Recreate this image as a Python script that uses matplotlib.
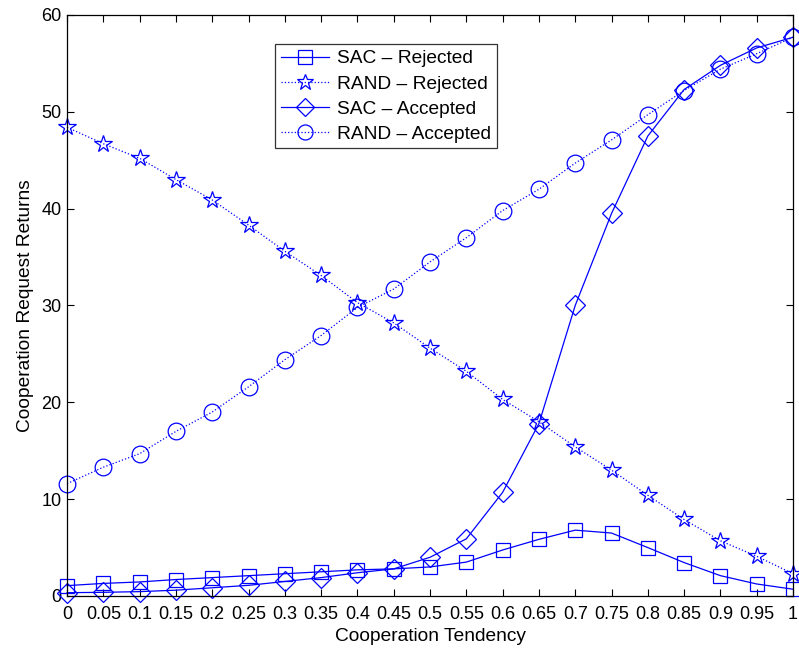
import numpy as np
import matplotlib
matplotlib.use("Agg")
import matplotlib.pyplot as plt

plt.rcParams['font.family'] = ['Liberation Sans', 'DejaVu Sans']

# Cooperation tendency values (x axis)
tendency = [0, 0.05, 0.1, 0.15, 0.2, 0.25, 0.3, 0.35, 0.4, 0.45, 0.5,
            0.55, 0.6, 0.65, 0.7, 0.75, 0.8, 0.85, 0.9, 0.95, 1.0]
tick_labels = ['0', '0.05', '0.1', '0.15', '0.2', '0.25', '0.3', '0.35', '0.4', '0.45', '0.5',
               '0.55', '0.6', '0.65', '0.7', '0.75', '0.8', '0.85', '0.9', '0.95', '1']

sac_rejected = [1.07, 1.3, 1.45, 1.7, 1.9, 2.1, 2.3, 2.5, 2.7, 2.8, 3.0,
                3.5, 4.75, 5.85, 6.8, 6.5, 5.0, 3.45, 2.1, 1.24, 0.7]
rand_rejected = [48.4, 46.7, 45.2, 43.0, 40.9, 38.3, 35.6, 33.1, 30.3, 28.2, 25.6,
                 23.2, 20.3, 18.0, 15.4, 13.0, 10.4, 7.9, 5.7, 4.1, 2.3]
sac_accepted = [0.34, 0.38, 0.45, 0.6, 0.85, 1.1, 1.5, 1.9, 2.4, 2.8, 4.0,
                5.9, 10.7, 17.8, 30.0, 39.5, 47.5, 52.3, 54.8, 56.6, 57.7]
rand_accepted = [11.6, 13.3, 14.7, 17.0, 19.0, 21.6, 24.4, 26.9, 29.8, 31.7, 34.5,
                 37.0, 39.8, 42.0, 44.7, 47.1, 49.7, 52.2, 54.4, 56.0, 57.7]

fig = plt.figure(figsize=(7.99, 6.51), dpi=100)
ax = fig.add_axes([0.0839, 0.0845, 0.9086, 0.8925])

blue = (0, 0, 1)
common = dict(color=blue, markerfacecolor='none', markeredgecolor=blue,
              markeredgewidth=0.9, clip_on=False)

ax.plot(tendency, sac_rejected, '-', marker='s', markersize=10.5, lw=0.9,
        label='SAC – Rejected', **common)
ax.plot(tendency, rand_rejected, ':', marker='*', markersize=13, lw=0.9,
        label='RAND – Rejected', **common)
ax.plot(tendency, sac_accepted, '-', marker='D', markersize=10.5, lw=0.9,
        label='SAC – Accepted', **common)
ax.plot(tendency, rand_accepted, ':', marker='o', markersize=12, lw=0.9,
        label='RAND – Accepted', **common)

ax.set_xlim(0, 1)
ax.set_ylim(0, 60)
ax.set_xticks(tendency)
ax.set_xticklabels(tick_labels)
ax.set_yticks([0, 10, 20, 30, 40, 50, 60])
ax.tick_params(direction='in', top=True, right=True, length=5, width=0.8,
               labelsize=13)
ax.tick_params(axis='x', pad=7)
ax.tick_params(axis='y', pad=4)
for s in ax.spines.values():
    s.set_linewidth(0.9)

ax.set_xlabel('Cooperation Tendency', fontsize=13.8, labelpad=4)
ax.set_ylabel('Cooperation Request Returns', fontsize=13.8, labelpad=5)

leg = ax.legend(loc='upper left', bbox_to_anchor=(0.2865, 0.9496), fontsize=13.8,
                frameon=True, fancybox=False, edgecolor='black', borderpad=0.3,
                labelspacing=0.4, handlelength=2.5, handletextpad=0.45,
                borderaxespad=0, markerscale=0.9)
leg.get_frame().set_linewidth(0.9)

fig.savefig('out.png', dpi=100)
